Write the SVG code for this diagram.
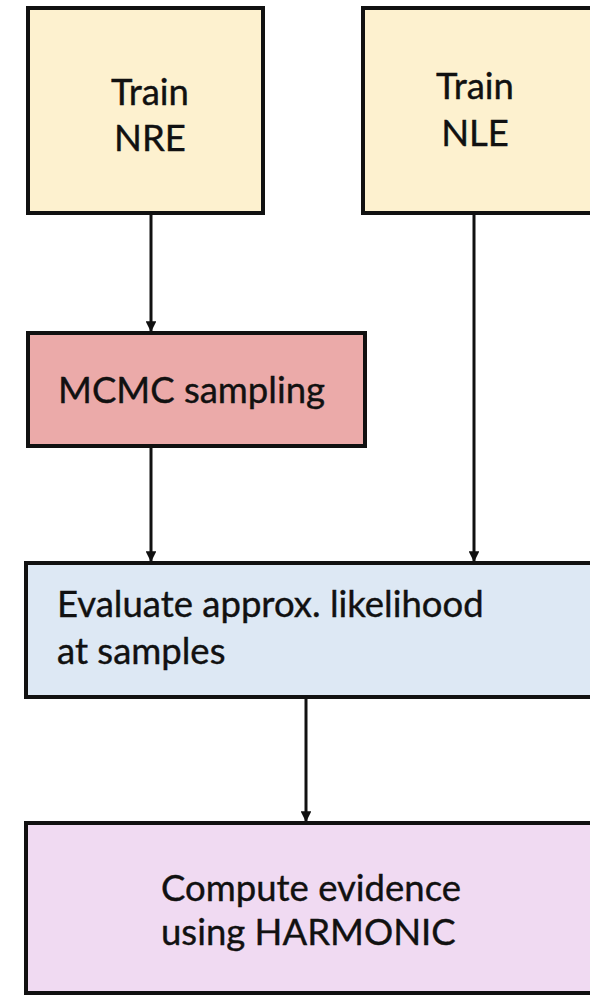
<svg xmlns="http://www.w3.org/2000/svg" width="590" height="996" viewBox="0 0 590 996">
<defs>
<style>
.box{stroke:#111;stroke-width:4}
.y{fill:#FDF1CF}
.r{fill:#EBAAA9}
.b{fill:#DDE8F4}
.p{fill:#F0DAF2}
text{font-family:Lato,"Open Sans","Liberation Sans",sans-serif;font-size:36.5px;fill:#111;stroke:#111;stroke-width:0.4}
.c{text-anchor:middle}
.conn{stroke:#111;stroke-width:3;fill:none;marker-end:url(#ah)}
</style>
<marker id="ah" viewBox="0 0 10 10" refX="10" refY="5" markerWidth="4" markerHeight="3.6" orient="auto" markerUnits="strokeWidth">
<path d="M0,0 L10,5 L0,10 z" fill="#111"/>
</marker>
</defs>
<rect width="590" height="996" fill="#fff"/>
<g id="connectors">
<line class="conn" x1="151" y1="213" x2="151" y2="332"/>
<line class="conn" x1="151" y1="446" x2="151" y2="562"/>
<line class="conn" x1="474" y1="213" x2="474" y2="562"/>
<line class="conn" x1="306" y1="697" x2="306" y2="822"/>
</g>
<g id="train-nre">
<rect class="box y" x="28" y="8" width="235" height="205"/>
<text class="c" x="150" y="105">Train</text>
<text class="c" x="150" y="151">NRE</text>
</g>
<g id="train-nle">
<rect class="box y" x="363" y="8" width="240" height="205"/>
<text class="c" x="475" y="99">Train</text>
<text class="c" x="475" y="146">NLE</text>
</g>
<g id="mcmc">
<rect class="box r" x="28" y="333" width="337" height="113"/>
<text x="58" y="403">MCMC sampling</text>
</g>
<g id="evaluate">
<rect class="box b" x="26" y="563" width="580" height="134"/>
<text x="57" y="617">Evaluate approx. likelihood</text>
<text x="57" y="664">at samples</text>
</g>
<g id="compute">
<rect class="box p" x="26" y="823" width="580" height="170"/>
<text x="161" y="901">Compute evidence</text>
<text x="161" y="945">using HARMONIC</text>
</g>
</svg>
